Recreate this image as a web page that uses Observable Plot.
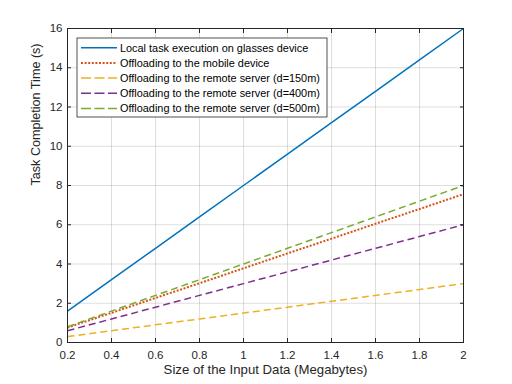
<!DOCTYPE html>
<html><head><meta charset="utf-8">
<script src="https://cdn.jsdelivr.net/npm/d3@7"></script>
<script src="https://cdn.jsdelivr.net/npm/@observablehq/plot@0.6"></script>
<style>body{margin:0;background:#fff;} #chart{width:512px;height:384px;}</style>
</head><body><div id="chart"></div>
<script>
// Data
const inputSize = [0.2, 0.4, 0.6, 0.8, 1.0, 1.2, 1.4, 1.6, 1.8, 2.0];
const localTask = [1.6, 3.2, 4.8, 6.4, 8.0, 9.6, 11.2, 12.8, 14.4, 16.0];
const mobileOffload = [0.76, 1.51, 2.27, 3.02, 3.78, 4.54, 5.29, 6.05, 6.80, 7.56];
const server150 = [0.3, 0.6, 0.9, 1.2, 1.5, 1.8, 2.1, 2.4, 2.7, 3.0];
const server400 = [0.6, 1.2, 1.8, 2.4, 3.0, 3.6, 4.2, 4.8, 5.4, 6.0];
const server500 = [0.8, 1.6, 2.4, 3.2, 4.0, 4.8, 5.6, 6.4, 7.2, 8.0];
const seriesNames = [
  "Local task execution on glasses device",
  "Offloading to the mobile device",
  "Offloading to the remote server (d=150m)",
  "Offloading to the remote server (d=400m)",
  "Offloading to the remote server (d=500m)"
];
const seriesValues = [localTask, mobileOffload, server150, server400, server500];
const xTicks = [0.2, 0.4, 0.6, 0.8, 1.0, 1.2, 1.4, 1.6, 1.8, 2.0];
const yTicks = [0, 2, 4, 6, 8, 10, 12, 14, 16];
const xLabel = "Size of the Input Data (Megabytes)";
const yLabel = "Task Completion Time (s)";

// Styles
const colors = ["#0072BD", "#D95319", "#EDB120", "#7E2F8E", "#77AC30"];
const dashes = [null, "2,1.6", "7,4", "7,4", "7,4"];
const widths = [1.5, 2, 1.5, 1.5, 1.5];
const axisColor = "#262626";
const fmt = d3.format("~g");

const lineMarks = seriesValues.map((vals, i) => {
  const rows = inputSize.map((x, j) => ({x, y: vals[j]}));
  return Plot.line(rows, {x: "x", y: "y", stroke: colors[i], strokeWidth: widths[i],
    strokeDasharray: dashes[i], strokeLinecap: "butt"});
});

const chart = Plot.plot({
  width: 512, height: 384,
  marginTop: 28, marginRight: 49, marginBottom: 42, marginLeft: 67,
  style: {fontFamily: "'Liberation Sans', Arial, Helvetica, sans-serif", fontSize: "11.5px", color: axisColor, background: "white"},
  x: {domain: [0.2, 2]},
  y: {domain: [0, 16]},
  marks: [
    Plot.gridX(xTicks, {stroke: "#000", strokeOpacity: 0.13}),
    Plot.gridY(yTicks, {stroke: "#000", strokeOpacity: 0.13}),
    ...lineMarks,
    Plot.frame({stroke: axisColor, strokeWidth: 1}),
    Plot.axisX(xTicks, {anchor: "bottom", tickSize: -4, tickPadding: 12, tickFormat: fmt, label: null, stroke: axisColor, fill: axisColor}),
    Plot.axisX(xTicks, {anchor: "top", tickSize: -4, tickFormat: () => "", label: null, stroke: axisColor}),
    Plot.axisY(yTicks, {anchor: "left", tickSize: -4, tickPadding: 9, tickFormat: fmt, label: null, stroke: axisColor, fill: axisColor}),
    Plot.axisY(yTicks, {anchor: "right", tickSize: -4, tickFormat: () => "", label: null, stroke: axisColor}),
    Plot.text([xLabel], {text: d => d, frameAnchor: "bottom", dy: 31, fontSize: 13.2, fill: axisColor}),
    Plot.text([yLabel], {text: d => d, frameAnchor: "left", dx: -32, rotate: -90, fontSize: 12.6, fill: axisColor})
  ]
});
document.getElementById("chart").append(chart);

// Legend inside the plot (top-left)
const svg = d3.select(chart);
const lg = svg.append("g").attr("font-family", "'Liberation Sans', Arial, Helvetica, sans-serif")
  .attr("font-size", 10.9).attr("text-anchor", "start");
const lx = 77, ly = 38, lw = 250, lh = 79, step = 15.2;
lg.append("rect").attr("x", lx).attr("y", ly).attr("width", lw).attr("height", lh)
  .attr("fill", "white").attr("stroke", axisColor).attr("stroke-width", 0.8);
seriesNames.forEach((name, i) => {
  const cy = ly + 9.7 + i * step;
  lg.append("line").attr("x1", lx + 4).attr("x2", lx + 40).attr("y1", cy).attr("y2", cy)
    .attr("stroke", colors[i]).attr("stroke-width", widths[i])
    .attr("stroke-dasharray", dashes[i] ? (i === 1 ? dashes[i] : "10,3.5") : null);
  lg.append("text").attr("x", lx + 43).attr("y", cy).attr("dy", "0.35em")
    .attr("text-anchor", "start").attr("fill", "#000").text(name);
});
</script>
</body></html>
